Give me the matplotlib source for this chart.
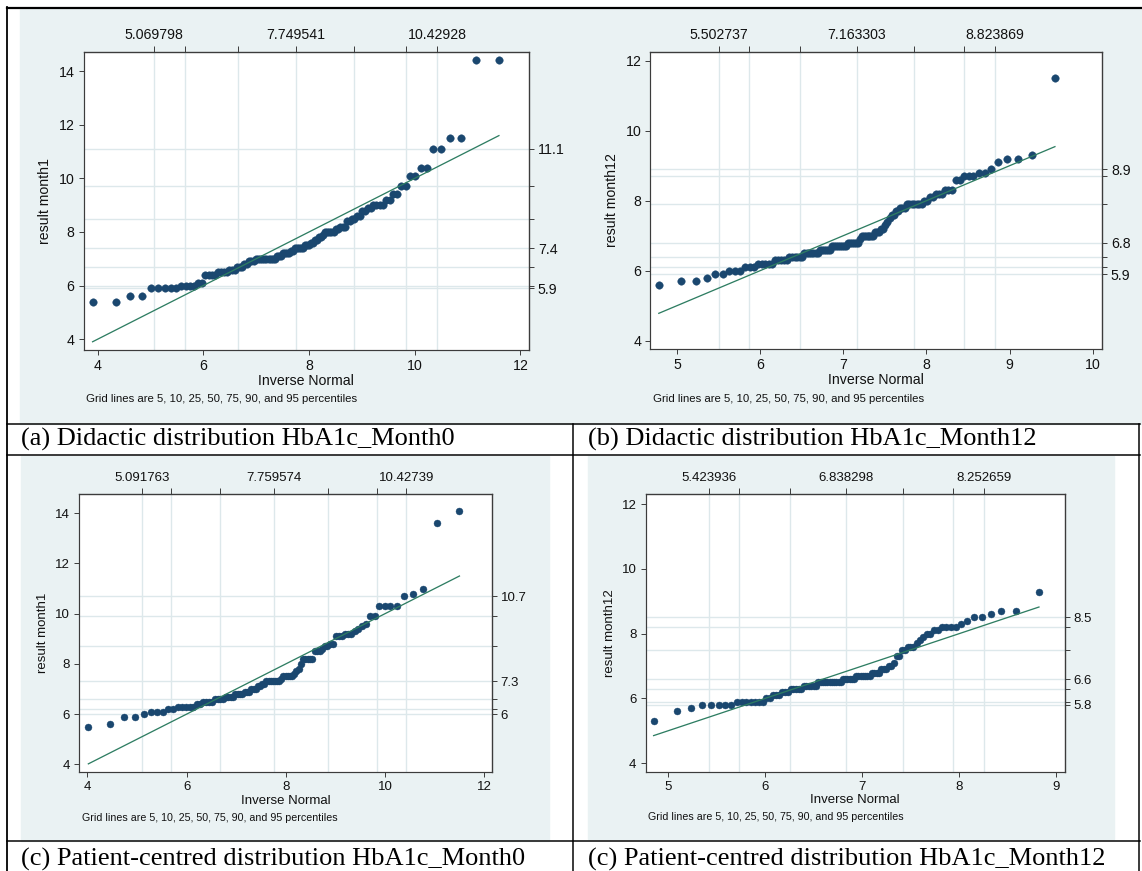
import numpy as np
import matplotlib
matplotlib.use("Agg")
import matplotlib.pyplot as plt
from matplotlib.patches import Rectangle
from matplotlib.lines import Line2D
from statistics import NormalDist

plt.rcParams['font.family'] = ['Liberation Sans', 'DejaVu Sans']

# ---------------- data (sorted HbA1c values as value levels + counts) ----------------
a_values = [5.4, 5.6, 5.9, 6.0, 6.1, 6.4, 6.5, 6.6, 6.7, 6.8, 6.9, 7.0, 7.1, 7.2, 7.3, 7.4, 7.5, 7.6, 7.7,
            7.8, 7.9, 8.0, 8.1, 8.2, 8.4, 8.5, 8.6, 8.8, 8.9, 9.0, 9.2, 9.4, 9.7, 10.1, 10.4, 11.1, 11.5, 14.4]
a_counts = [2, 2, 5, 4, 2, 4, 4, 3, 3, 2, 3, 10, 3, 4, 2, 5, 3, 2, 2,
            2, 1, 5, 2, 3, 2, 2, 2, 2, 2, 4, 2, 2, 2, 2, 2, 2, 2, 2]

b_values = [5.6, 5.7, 5.8, 5.9, 6.0, 6.1, 6.2, 6.3, 6.4, 6.5, 6.6, 6.7, 6.8, 6.9, 7.0, 7.1, 7.2, 7.3,
            7.4, 7.5, 7.6, 7.7, 7.8, 7.9, 8.0, 8.1, 8.2, 8.3, 8.6, 8.7, 8.8, 8.9, 9.1, 9.2, 9.3, 11.5]
b_counts = [1, 2, 1, 2, 3, 3, 5, 5, 6, 7, 6, 8, 6, 1, 7, 3, 2, 1,
            1, 1, 2, 2, 3, 7, 2, 2, 3, 3, 2, 3, 2, 1, 1, 2, 1, 1]

c_values = [5.5, 5.6, 5.9, 6.0, 6.1, 6.2, 6.3, 6.4, 6.5, 6.6, 6.7, 6.8, 6.9, 7.0, 7.1, 7.2, 7.3, 7.4, 7.5,
            7.6, 7.7, 7.8, 8.0, 8.2, 8.5, 8.6, 8.7, 8.8, 9.1, 9.2, 9.3, 9.4, 9.5, 9.6, 9.9, 10.3, 10.7,
            10.8, 11.0, 13.6, 14.1]
c_counts = [1, 1, 2, 1, 3, 2, 5, 2, 4, 4, 4, 4, 3, 3, 2, 2, 7, 1, 5,
            1, 1, 1, 1, 5, 3, 1, 2, 2, 3, 3, 1, 1, 1, 1, 2, 4, 1,
            1, 1, 1, 1]

d_values = [5.3, 5.6, 5.7, 5.8, 5.9, 6.0, 6.1, 6.2, 6.3, 6.4, 6.5, 6.6, 6.7, 6.8, 6.9, 7.0, 7.1, 7.3,
            7.5, 7.6, 7.7, 7.8, 7.9, 8.0, 8.1, 8.2, 8.3, 8.4, 8.5, 8.6, 8.7, 9.3]
d_counts = [1, 1, 1, 5, 7, 2, 3, 3, 5, 6, 11, 6, 7, 4, 3, 2, 1, 2,
            2, 3, 1, 1, 1, 2, 2, 4, 1, 1, 2, 1, 2, 1]

# top axis labels (normal quantiles at 5th, 50th, 95th percentiles)
a_top = ["5.069798", "7.749541", "10.42928"]
b_top = ["5.502737", "7.163303", "8.823869"]
c_top = ["5.091763", "7.759574", "10.42739"]
d_top = ["5.423936", "6.838298", "8.252659"]

# right axis: data percentiles 5,10,25,50,75,90,95
a_pct = [5.9, 6.0, 6.7, 7.4, 8.5, 9.7, 11.1]
b_pct = [5.9, 6.1, 6.4, 6.8, 7.9, 8.7, 8.9]
c_pct = [6.0, 6.2, 6.6, 7.3, 8.7, 9.9, 10.7]
d_pct = [5.8, 5.9, 6.3, 6.6, 7.5, 8.2, 8.5]
a_pct_lab = ["5.9", "", "", "7.4", "", "", "11.1"]
b_pct_lab = ["5.9", "", "", "6.8", "", "", "8.9"]
c_pct_lab = ["6", "", "", "7.3", "", "", "10.7"]
d_pct_lab = ["5.8", "", "", "6.6", "", "", "8.5"]

a_xticks = [4, 6, 8, 10, 12]
b_xticks = [5, 6, 7, 8, 9, 10]
c_xticks = [4, 6, 8, 10, 12]
d_xticks = [5, 6, 7, 8, 9]
a_yticks = [4, 6, 8, 10, 12, 14]
b_yticks = [4, 6, 8, 10, 12]
c_yticks = [4, 6, 8, 10, 12, 14]
d_yticks = [4, 6, 8, 10, 12]

captions = ["(a) Didactic distribution HbA1c_Month0",
            "(b) Didactic distribution HbA1c_Month12",
            "(c) Patient-centred distribution HbA1c_Month0",
            "(c) Patient-centred distribution HbA1c_Month12"]
ylabels = ["result month1", "result month12", "result month1", "result month12"]
pct_probs = [0.05, 0.10, 0.25, 0.50, 0.75, 0.90, 0.95]

# ---------------- figure ----------------
W, H = 1142, 871
fig = plt.figure(figsize=(W / 100, H / 100), dpi=100)
BG = "#eaf2f3"
NAVY = "#1a476f"
GREEN = "#2e7d62"
GRID = "#dde8eb"
FRAME = "#3c3c3c"


def fx(x):
    return x / W


def fy(y):
    return 1 - y / H


def px2pt(p):
    return p * 72 / 100


# backgrounds
fig.patches.append(Rectangle((fx(20), fy(423.5)), fx(1142) - fx(20), fy(9.5) - fy(423.5),
                             transform=fig.transFigure, color=BG, zorder=-5))
fig.patches.append(Rectangle((fx(21), fy(840.5)), fx(549) - fx(21), fy(456.5) - fy(840.5),
                             transform=fig.transFigure, color=BG, zorder=-5))
fig.patches.append(Rectangle((fx(587.5), fy(838.5)), fx(1113.5) - fx(587.5), fy(456.5) - fy(838.5),
                             transform=fig.transFigure, color=BG, zorder=-5))

# table lines
def hline(y, x0, x1, lw=1.5):
    fig.lines.append(Line2D([fx(x0), fx(x1)], [fy(y), fy(y)], transform=fig.transFigure,
                            color="black", lw=px2pt(lw), zorder=5))


def vline(x, y0, y1, lw=1.5):
    fig.lines.append(Line2D([fx(x), fx(x)], [fy(y0), fy(y1)], transform=fig.transFigure,
                            color="black", lw=px2pt(lw), zorder=5))


hline(8.3, 7, 1142, 2.2)
vline(7, 7.5, 871, 1.8)
hline(424.3, 7, 1139.5)
hline(455.5, 7, 1139.5)
hline(841, 7, 1139.5)
vline(572.7, 424.3, 871)
vline(1139, 424.3, 871)

# captions
cap_pos = [(21, 446), (588, 446), (21.5, 865.5), (588, 865.5)]
for (cx, cy), txt in zip(cap_pos, captions):
    fig.text(fx(cx), fy(cy), txt, family=["Liberation Serif", "DejaVu Serif"], fontsize=19,
             ha="left", va="baseline", color="black", zorder=6)


def panel(box, values, counts, top, pct, pct_lab, xlim, ylim, xticks, yticks, ylabel,
          fs, gfs, ms, ylab_x, inv_y, grid_y):
    l, r, t, b = box
    ax = fig.add_axes([fx(l), fy(b), fx(r) - fx(l), fy(t) - fy(b)])
    ax.set_zorder(3)
    ax.set_facecolor("white")
    vals = np.repeat(values, counts)
    n = len(vals)
    nd = NormalDist()
    topv = [float(s) for s in top]
    m = topv[1]
    s = (topv[2] - topv[0]) / (2 * nd.inv_cdf(0.95))
    xq = np.array([m + s * nd.inv_cdf(i / (n + 1)) for i in range(1, n + 1)])
    top_pos = [m + s * nd.inv_cdf(p) for p in pct_probs]

    for xp in top_pos:
        ax.axvline(xp, color=GRID, lw=px2pt(1.4), zorder=0)
    for yp in pct:
        ax.axhline(yp, color=GRID, lw=px2pt(1.4), zorder=0)

    ax.plot(xq, vals, "o", ms=ms, color=NAVY, mec=NAVY, mew=0.3, zorder=3)
    ax.plot([xq[0], xq[-1]], [xq[0], xq[-1]], color=GREEN, lw=px2pt(1.3), zorder=4)

    ax.set_xlim(*xlim)
    ax.set_ylim(*ylim)
    ax.set_xticks(xticks)
    ax.set_yticks(yticks)
    ax.set_xticklabels([str(v) for v in xticks])
    ax.set_yticklabels([str(v) for v in yticks])
    tl = px2pt(5)
    ax.tick_params(direction="out", length=tl, width=0.7, color=FRAME, labelsize=fs,
                   pad=px2pt(4), labelcolor="#111111")
    for sp in ax.spines.values():
        sp.set_color(FRAME)
        sp.set_linewidth(px2pt(1.2))

    tlab = [top[0], "", "", top[1], "", "", top[2]]
    secx = ax.secondary_xaxis("top")
    secx.set_xticks(top_pos)
    secx.set_xticklabels(tlab)
    secx.tick_params(direction="out", length=px2pt(6), width=0.7, color=FRAME, labelsize=fs,
                     pad=px2pt(4), labelcolor="#111111")
    secx.spines["top"].set_color(FRAME)
    secx.spines["top"].set_linewidth(px2pt(1.2))

    secy = ax.secondary_yaxis("right")
    secy.set_yticks(pct)
    secy.set_yticklabels(pct_lab)
    secy.tick_params(direction="out", length=tl, width=0.7, color=FRAME, labelsize=fs,
                     pad=px2pt(4), labelcolor="#111111")
    secy.spines["right"].set_color(FRAME)
    secy.spines["right"].set_linewidth(px2pt(1.2))

    cx = (l + r) / 2
    cyy = (t + b) / 2
    fig.text(fx(ylab_x), fy(cyy), ylabel, rotation=90, ha="center", va="center",
             fontsize=fs, color="#111111")
    fig.text(fx(cx), fy(inv_y), "Inverse Normal", ha="center", va="center",
             fontsize=fs, color="#111111")
    fig.text(fx(l + 2.5), fy(grid_y), "Grid lines are 5, 10, 25, 50, 75, 90, and 95 percentiles",
             ha="left", va="center", fontsize=gfs, color="#111111")
    return ax


panel((83.6, 528.9, 51.7, 350.0), a_values, a_counts, a_top, a_pct, a_pct_lab,
      (3.737, 12.159), (3.6, 14.72), a_xticks, a_yticks, ylabels[0],
      10.2, 8.2, 5.4, 45.4, 381, 399.3)
panel((650.3, 1101.9, 51.7, 349.3), b_values, b_counts, b_top, b_pct, b_pct_lab,
      (4.680, 10.109), (3.754, 12.257), b_xticks, b_yticks, ylabels[1],
      10.2, 8.2, 5.4, 612, 380, 398.7)
panel((79.2, 491.8, 494.3, 772.3), c_values, c_counts, c_top, c_pct, c_pct_lab,
      (3.833, 12.154), (3.681, 14.757), c_xticks, c_yticks, ylabels[2],
      9.5, 7.65, 5.0, 42.9, 801, 818.3)
panel((645.5, 1064.7, 494.3, 771.7), d_values, d_counts, d_top, d_pct, d_pct_lab,
      (4.771, 9.087), (3.741, 12.3), d_xticks, d_yticks, ylabels[3],
      9.5, 7.65, 5.0, 610, 800, 817.3)

fig.savefig("out.png", dpi=100)
